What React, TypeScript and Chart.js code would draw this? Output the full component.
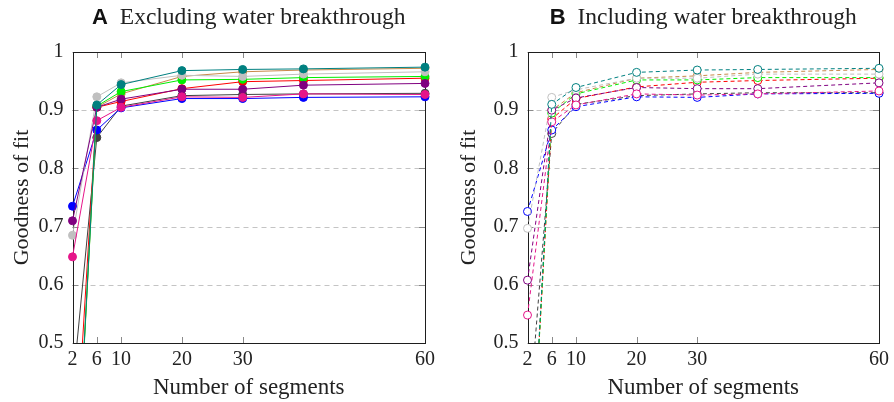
import React, { useEffect, useRef } from 'react';
import { Chart, registerables } from 'chart.js';

Chart.register(...registerables);

// ---------- data ----------
const segments = [2, 6, 10, 20, 30, 40, 60];
const xTickValues = [2, 6, 10, 20, 30, 60];
const yTickValues = [0.5, 0.6, 0.7, 0.8, 0.9, 1];

const seriesColors = ['#008080', '#e6158a', '#800080', '#c0c0c0', '#00ee00', '#c8894a', '#ff0000', '#0000ff', '#404040'];

// A: excluding water breakthrough
const exclTeal = [0.12, 0.909, 0.944, 0.968, 0.970, 0.971, 0.974];
const exclMagenta = [0.648, 0.882, 0.905, 0.923, 0.922, 0.928, 0.927];
const exclPurple = [0.710, 0.905, 0.919, 0.936, 0.936, 0.943, 0.946];
const exclGray = [0.685, 0.923, 0.947, 0.960, 0.958, 0.962, 0.966];
const exclGreen = [0.11, 0.907, 0.932, 0.952, 0.953, 0.956, 0.958];
const exclOrange = [0.12, 0.905, 0.928, 0.958, 0.966, 0.969, 0.972];
const exclRed = [0.22, 0.905, 0.915, 0.937, 0.949, 0.951, 0.955];
const exclBlue = [0.735, 0.866, 0.904, 0.920, 0.920, 0.922, 0.923];
const exclDark = [0.42, 0.853, 0.907, 0.925, 0.927, 0.928, 0.929];

// B: including water breakthrough
const inclTeal = [0.14, 0.910, 0.939, 0.965, 0.969, 0.970, 0.972];
const inclMagenta = [0.548, 0.880, 0.909, 0.928, 0.926, 0.928, 0.933];
const inclPurple = [0.608, 0.900, 0.921, 0.939, 0.937, 0.937, 0.947];
const inclGray = [0.697, 0.922, 0.935, 0.955, 0.955, 0.962, 0.962];
const inclGreen = [0.14, 0.895, 0.928, 0.952, 0.952, 0.956, 0.956];
const inclOrange = [0.14, 0.900, 0.930, 0.955, 0.959, 0.965, 0.970];
const inclRed = [0.15, 0.885, 0.920, 0.940, 0.948, 0.951, 0.955];
const inclBlue = [0.726, 0.866, 0.906, 0.923, 0.922, 0.928, 0.929];
const inclDark = [0.34, 0.860, 0.910, 0.925, 0.928, 0.930, 0.930];

const exclSeries = [exclTeal, exclMagenta, exclPurple, exclGray, exclGreen, exclOrange, exclRed, exclBlue, exclDark];
const inclSeries = [inclTeal, inclMagenta, inclPurple, inclGray, inclGreen, inclOrange, inclRed, inclBlue, inclDark];

const SERIF = "'Liberation Serif', 'Times New Roman', serif";
const SANS = "'Liberation Sans', Arial, sans-serif";

const framePlugin = {
  id: 'frame',
  beforeDatasetsDraw(chart: any) {
    const { ctx, chartArea, scales } = chart;
    const { left, right, top, bottom } = chartArea;
    const x = scales.x;
    const y = scales.y;
    ctx.save();
    ctx.lineWidth = 1;
    // dashed horizontal grid
    ctx.strokeStyle = '#c4c4c4';
    ctx.setLineDash([5, 4]);
    for (const v of yTickValues) {
      if (v <= 0.5 || v >= 1) continue;
      const py = Math.round(y.getPixelForValue(v)) + 0.5;
      ctx.beginPath();
      ctx.moveTo(left, py);
      ctx.lineTo(right, py);
      ctx.stroke();
    }
    ctx.setLineDash([]);
    // inward tick marks
    ctx.strokeStyle = '#8a8a8a';
    const tl = 6;
    for (const v of xTickValues) {
      const px = Math.round(x.getPixelForValue(v)) + 0.5;
      ctx.beginPath();
      ctx.moveTo(px, bottom);
      ctx.lineTo(px, bottom - tl);
      ctx.moveTo(px, top);
      ctx.lineTo(px, top + tl);
      ctx.stroke();
    }
    for (const v of yTickValues) {
      const py = Math.round(y.getPixelForValue(v)) + 0.5;
      ctx.beginPath();
      ctx.moveTo(left, py);
      ctx.lineTo(left + tl, py);
      ctx.moveTo(right, py);
      ctx.lineTo(right - tl, py);
      ctx.stroke();
    }
    // frame
    ctx.strokeStyle = '#1e1e1e';
    ctx.strokeRect(Math.round(left) + 0.5, Math.round(top) + 0.5, Math.round(right) - Math.round(left), Math.round(bottom) - Math.round(top));
    ctx.restore();
  },
};

function titlePlugin(letter: string, text: string) {
  return {
    id: 'panelTitle',
    afterDraw(chart: any) {
      const { ctx, chartArea } = chart;
      ctx.save();
      ctx.textBaseline = 'alphabetic';
      ctx.textAlign = 'left';
      ctx.font = `bold 22px ${SANS}`;
      const wl = ctx.measureText(letter).width;
      ctx.font = `23.5px ${SERIF}`;
      const wt = ctx.measureText(text).width;
      const gap = 12;
      const total = wl + gap + wt;
      const cx = (chartArea.left + chartArea.right) / 2;
      const x0 = cx - total / 2;
      const yb = 24;
      ctx.fillStyle = '#111';
      ctx.font = `bold 22px ${SANS}`;
      ctx.fillText(letter, x0, yb);
      ctx.fillStyle = '#222';
      ctx.font = `23.5px ${SERIF}`;
      ctx.fillText(text, x0 + wl + gap, yb);
      ctx.restore();
    },
  };
}

function makeConfig(letter: string, title: string, series: number[][], dashed: boolean, yWidth: number, padRight: number): any {
  return {
    type: 'line',
    data: {
      datasets: series.map((vals, i) => ({
        label: 'series' + i,
        data: segments.map((s, j) => ({ x: s, y: vals[j] })),
        borderColor: seriesColors[i],
        backgroundColor: dashed ? '#ffffff' : seriesColors[i],
        pointBackgroundColor: dashed ? '#ffffff' : seriesColors[i],
        pointBorderColor: seriesColors[i],
        borderWidth: 1,
        pointRadius: 4,
        pointBorderWidth: 1,
        borderDash: dashed ? [4, 3] : [],
        tension: 0,
        fill: false,
        clip: { left: 8, right: 8, top: 8, bottom: 0 },
      })),
    },
    options: {
      responsive: false,
      animation: false,
      layout: { padding: { left: 0, right: padRight, top: 52, bottom: 0 } },
      plugins: { legend: { display: false }, tooltip: { enabled: false }, title: { display: false } },
      scales: {
        x: {
          type: 'linear',
          min: 2,
          max: 60,
          afterBuildTicks: (s: any) => {
            s.ticks = xTickValues.map((v) => ({ value: v }));
          },
          afterFit: (s: any) => {
            s.height = 59;
          },
          grid: { display: false, drawTicks: false },
          border: { display: false },
          ticks: {
            autoSkip: false,
            maxRotation: 0,
            padding: 5,
            color: '#222',
            font: { family: SERIF, size: 20 },
            callback: (v: any) => String(v),
          },
          title: {
            display: true,
            text: 'Number of segments',
            color: '#222',
            font: { family: SERIF, size: 23 },
            padding: { top: 0, bottom: 0 },
          },
        },
        y: {
          type: 'linear',
          min: 0.5,
          max: 1,
          afterBuildTicks: (s: any) => {
            s.ticks = yTickValues.map((v) => ({ value: v }));
          },
          afterFit: (s: any) => {
            s.width = yWidth;
          },
          grid: { display: false, drawTicks: false },
          border: { display: false },
          ticks: {
            padding: 9,
            color: '#222',
            font: { family: SERIF, size: 20 },
            callback: (v: any) => (v === 1 ? '1' : Number(v).toFixed(1)),
          },
          title: {
            display: true,
            text: 'Goodness of fit',
            color: '#222',
            font: { family: SERIF, size: 22 },
            padding: { top: 9, bottom: 0 },
          },
        },
      },
    },
    plugins: [framePlugin, titlePlugin(letter, title)],
  };
}

function Panel(props: { letter: string; title: string; series: number[][]; dashed: boolean; yWidth: number; padRight: number; left: number }) {
  const ref = useRef<HTMLCanvasElement | null>(null);
  useEffect(() => {
    if (!ref.current) return;
    const chart = new Chart(ref.current, makeConfig(props.letter, props.title, props.series, props.dashed, props.yWidth, props.padRight));
    return () => chart.destroy();
  }, []);
  return (
    <canvas
      ref={ref}
      width={447}
      height={402}
      style={{ position: 'absolute', left: props.left, top: 0, width: 447, height: 402 }}
    />
  );
}

export default function App() {
  return (
    <div style={{ position: 'absolute', left: 0, top: 0, width: 894, height: 402, background: '#fff' }}>
      <Panel letter="A" title="Excluding water breakthrough" series={exclSeries} dashed={false} yWidth={72.5} padRight={22} left={0} />
      <Panel letter="B" title="Including water breakthrough" series={inclSeries} dashed={true} yWidth={80.5} padRight={14.7} left={447} />
    </div>
  );
}
